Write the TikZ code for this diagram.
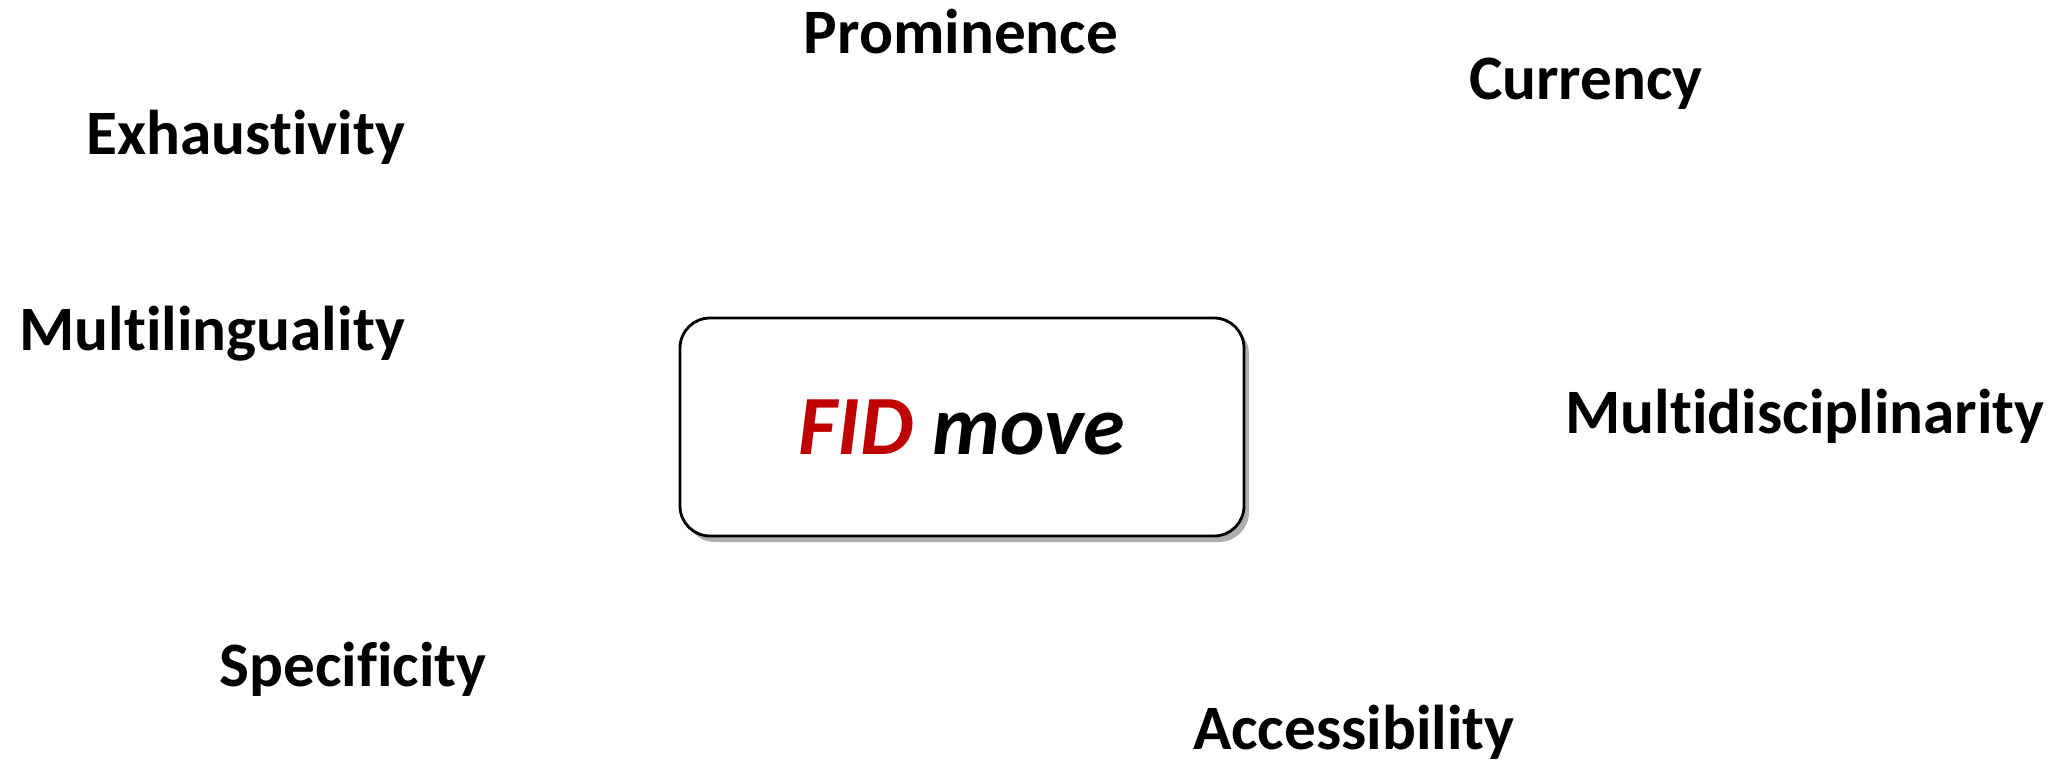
\documentclass[tikz,border=0pt]{standalone}
\usepackage{fontspec}
\setmainfont[Ligatures={NoCommon}]{Carlito}
\usetikzlibrary{shadows}
\definecolor{fidred}{RGB}{192,0,0}
\tikzset{
  crit/.style={font=\fontsize{18}{20}\selectfont\bfseries, anchor=base, inner sep=0pt},
  movebox/.style={draw, line width=0.8pt, rounded corners=0.3cm, fill=white,
    minimum width=5.64cm, minimum height=2.18cm,
    drop shadow={shadow xshift=0.05cm, shadow yshift=-0.06cm, opacity=0.45, fill=black!70},
    font=\fontsize{24}{28}\selectfont\bfseries\itshape}
}
\begin{document}
\begin{tikzpicture}
  [x=1cm,y=1cm]
  \useasboundingbox (0,0) rectangle (20.69,7.61);
  \node[movebox] (move) at (9.62,3.34) {\textcolor{fidred}{FID} move};
  \node[crit] (prom) at (9.61,7.08) {Prominence};
  \node[crit] (curr) at (15.86,6.62) {Currency};
  \node[crit] (exha) at (2.46,6.07) {Exhaustivity};
  \node[crit] (mling) at (2.12,4.11) {Multilinguality};
  \node[crit] (mdisc) at (18.05,3.28) {Multidisciplinarity};
  \node[crit] (spec) at (3.53,0.75) {Specificity};
  \node[crit] (acc) at (13.54,0.12) {Accessibility};
\end{tikzpicture}
\end{document}
